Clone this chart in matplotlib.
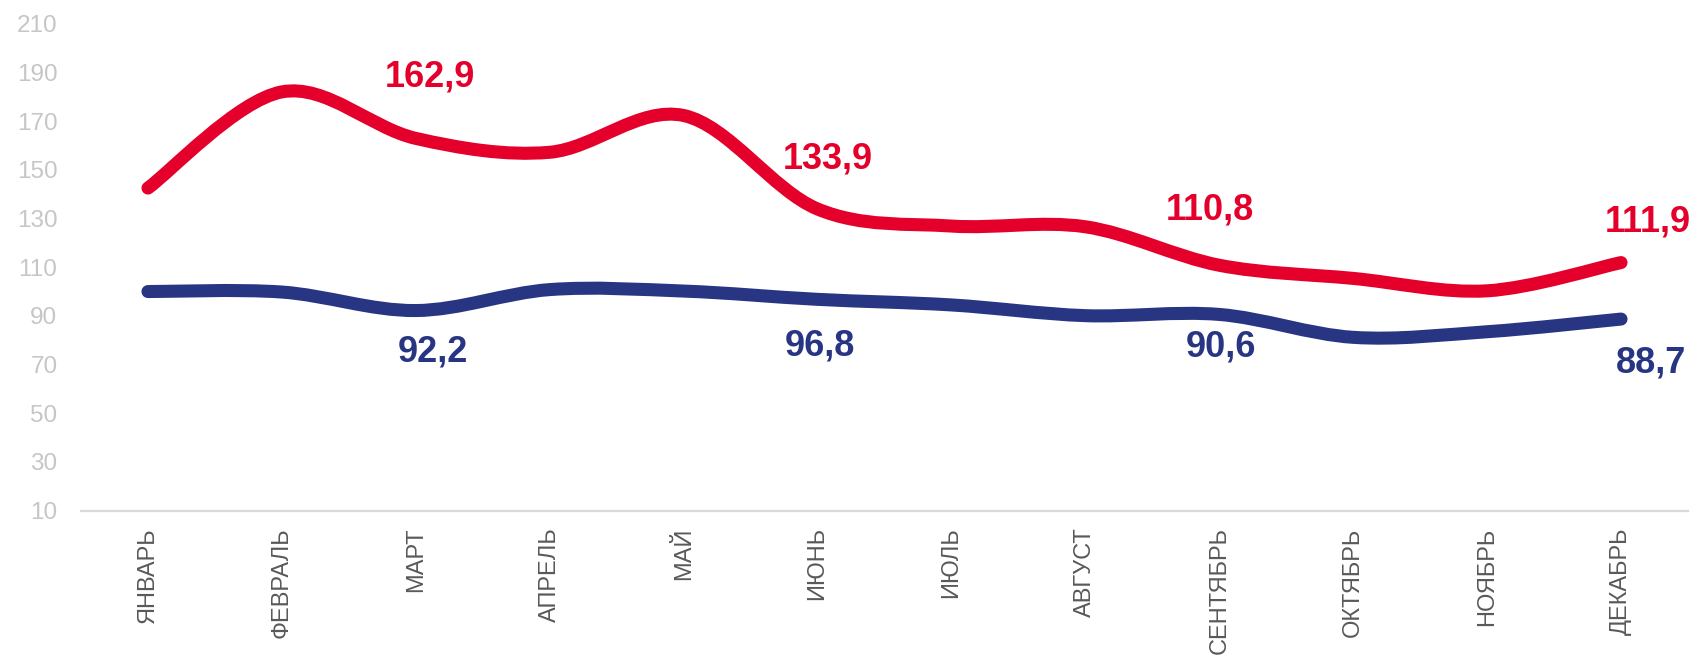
"""Monthly index chart: two smoothed lines with selected value labels."""

import numpy as np
import matplotlib
matplotlib.use("Agg")
import matplotlib.pyplot as plt
from matplotlib.path import Path
from matplotlib.patches import PathPatch

months = ["ЯНВАРЬ", "ФЕВРАЛЬ", "МАРТ", "АПРЕЛЬ", "МАЙ", "ИЮНЬ",
          "ИЮЛЬ", "АВГУСТ", "СЕНТЯБРЬ", "ОКТЯБРЬ", "НОЯБРЬ", "ДЕКАБРЬ"]
red_values = [142.5, 182.0, 162.9, 157.2, 172.3, 133.9,
              126.9, 126.6, 110.8, 105.4, 100.3, 111.9]
blue_values = [100.0, 99.8, 92.2, 100.8, 100.2, 96.8,
               94.5, 90.1, 90.6, 81.2, 83.5, 88.7]
labeled_months = [2, 5, 8, 11]
y_ticks = list(range(10, 211, 20))

RED = "#e4002b"
BLUE = "#283583"


def smooth_path(xs, ys) -> Path:
    """Cubic Bezier path through the points (Catmull-Rom style tangents)."""
    pts = np.column_stack([xs, ys]).astype(float)
    padded = np.vstack([pts[0], pts, pts[-1]])
    verts = [pts[0]]
    codes = [Path.MOVETO]
    for i in range(len(pts) - 1):
        p0, p1, p2, p3 = padded[i], padded[i + 1], padded[i + 2], padded[i + 3]
        verts += [p1 + (p2 - p0) / 6, p2 - (p3 - p1) / 6, p2]
        codes += [Path.CURVE4] * 3
    return Path(verts, codes)


def fmt(v: float) -> str:
    return f"{v:.1f}".replace(".", ",")


fig = plt.figure(figsize=(16.94, 6.56), dpi=100)
ax = fig.add_axes([81 / 1694, 145.3 / 656, 1607 / 1694, 487 / 656])

x = np.arange(len(months))
for values, color in [(red_values, RED), (blue_values, BLUE)]:
    patch = PathPatch(smooth_path(x, values), facecolor="none",
                      edgecolor=color, lw=9.4, capstyle="round",
                      joinstyle="round")
    ax.add_patch(patch)

# label offsets in pixels (dx, dy) for each labelled month
red_offsets = {2: (14, 61), 5: (10, 50), 8: (-9, 55), 11: (27, 41)}
blue_offsets = {2: (17, -41), 5: (2, -47), 8: (2, -33), 11: (30, -44)}
for i in labeled_months:
    for values, color, offs in [(red_values, RED, red_offsets),
                                (blue_values, BLUE, blue_offsets)]:
        ax.annotate(fmt(values[i]), (x[i], values[i]),
                    xytext=offs[i], textcoords="offset pixels",
                    ha="center", va="center", color=color,
                    fontsize=26, fontweight="bold",
                    family="Liberation Sans", annotation_clip=False)

ax.set_xlim(-0.5, len(months) - 0.5)
ax.set_ylim(10, 210)
ax.set_yticks(y_ticks)
ax.set_yticklabels([str(t) for t in y_ticks], color="#c6c6c6",
                   fontsize=17.5, family="Liberation Sans")
ax.set_xticks(x)
ax.set_xticklabels(months, rotation=90, va="top", ha="center",
                   color="#595959", fontsize=17, family="Liberation Sans")
ax.tick_params(axis="y", length=0, pad=17)
ax.tick_params(axis="x", length=0, pad=12)

for side in ["top", "right", "left"]:
    ax.spines[side].set_visible(False)
ax.spines["bottom"].set_color("#d9d9d9")
ax.spines["bottom"].set_linewidth(1.6)

fig.savefig("out.png", dpi=100)
